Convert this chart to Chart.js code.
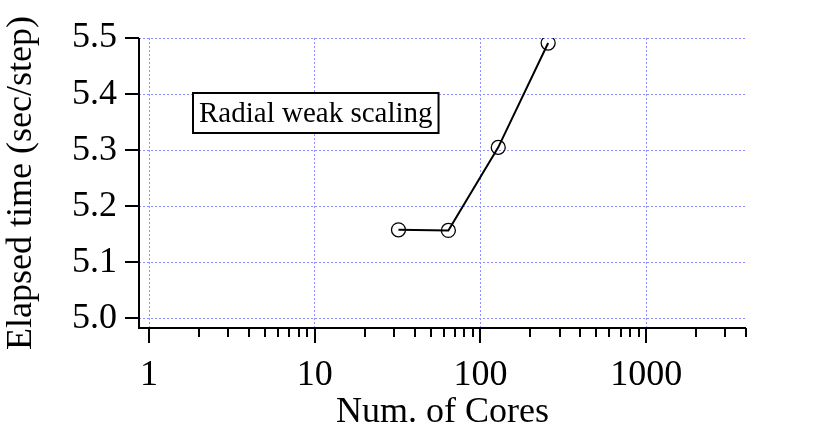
<!DOCTYPE html>
<html>
<head>
<meta charset="utf-8">
<script src="https://cdn.jsdelivr.net/npm/chart.js@4.4.0/dist/chart.umd.min.js"></script>
<style>
  html, body { margin: 0; padding: 0; background: #fff; }
  #wrap { width: 820px; height: 431px; }
</style>
</head>
<body>
<div id="wrap"><canvas id="chart"></canvas></div>
<script>
const cores = [32, 64, 128, 256];
const elapsed = [5.158, 5.157, 5.305, 5.491];
const xMajorTicks = [1, 10, 100, 1000];
const yTicks = [5.0, 5.1, 5.2, 5.3, 5.4, 5.5];
const noteText = 'Radial weak scaling';

const FONT = '"Liberation Serif", "Times New Roman", serif';
const GRID = '#8f8fff';

// 1..9, 10..90, 100..900, 1000..4000
const xAllTicks = [];
for (let d = 1; d <= 1000; d *= 10) {
  for (let m = 1; m <= 9; m++) {
    if (d * m <= 4000) xAllTicks.push(d * m);
  }
}

// tick marks drawn outside the axes, longer on majors
const tickMarks = {
  id: 'tickMarks',
  afterDraw(chart) {
    const { ctx, chartArea, scales } = chart;
    ctx.save();
    ctx.strokeStyle = '#000';
    ctx.lineWidth = 2;
    // axis lines
    ctx.beginPath();
    ctx.moveTo(chartArea.left, chartArea.top);
    ctx.lineTo(chartArea.left, chartArea.bottom);
    ctx.lineTo(chartArea.right, chartArea.bottom);
    ctx.stroke();
    ctx.beginPath();
    xAllTicks.forEach(v => {
      const x = Math.round(scales.x.getPixelForValue(v));
      const len = xMajorTicks.includes(v) ? 15 : 9;
      ctx.moveTo(x, chartArea.bottom);
      ctx.lineTo(x, chartArea.bottom + len);
    });
    yTicks.forEach(v => {
      const y = Math.round(scales.y.getPixelForValue(v));
      ctx.moveTo(chartArea.left, y);
      ctx.lineTo(chartArea.left - 14, y);
    });
    ctx.stroke();
    ctx.restore();
  }
};

const noteBox = {
  id: 'noteBox',
  afterDatasetsDraw(chart) {
    const { ctx, chartArea } = chart;
    ctx.save();
    ctx.font = '29px ' + FONT;
    const w = ctx.measureText(noteText).width;
    const x = chartArea.left + 54, y = chartArea.top + 55;
    ctx.fillStyle = '#fff';
    ctx.fillRect(x, y, w + 12, 40);
    ctx.strokeStyle = '#000';
    ctx.lineWidth = 2;
    ctx.strokeRect(x, y, w + 12, 40);
    ctx.fillStyle = '#000';
    ctx.textBaseline = 'middle';
    ctx.fillText(noteText, x + 6, y + 21);
    ctx.restore();
  }
};

new Chart(document.getElementById('chart'), {
  type: 'line',
  data: {
    datasets: [{
      data: cores.map((c, i) => ({ x: c, y: elapsed[i] })),
      borderColor: '#000',
      borderWidth: 2,
      pointStyle: 'circle',
      pointRadius: 7,
      pointBorderWidth: 1.3,
      pointBorderColor: '#000',
      pointBackgroundColor: 'rgba(0,0,0,0)',
      tension: 0
    }]
  },
  options: {
    responsive: true,
    maintainAspectRatio: false,
    animation: false,
    layout: { padding: { top: 38, right: 74, left: 0, bottom: 0 } },
    plugins: { legend: { display: false }, tooltip: { enabled: false } },
    scales: {
      x: {
        type: 'logarithmic',
        min: 0.87,
        max: 4000,
        afterBuildTicks: s => { s.ticks = xAllTicks.map(v => ({ value: v })); },
        afterFit: s => { s.height = 103; },
        border: { display: false, dash: [2, 2] },
        grid: {
          color: c => xMajorTicks.includes(c.tick && c.tick.value) ? GRID : 'rgba(0,0,0,0)',
          lineWidth: 1,
          drawTicks: false
        },
        ticks: {
          autoSkip: false,
          maxRotation: 0,
          padding: 26,
          color: '#000',
          font: { family: FONT, size: 36 },
          callback: v => xMajorTicks.includes(v) ? String(v) : ''
        },
        title: {
          display: true,
          text: 'Num. of Cores',
          color: '#000',
          font: { family: FONT, size: 36, lineHeight: 1.0 },
          padding: { top: 0, bottom: 0 }
        }
      },
      y: {
        min: 4.983,
        max: 5.5,
        afterBuildTicks: s => { s.ticks = yTicks.map(v => ({ value: v })); },
        afterFit: s => { s.width = 139; },
        border: { display: false, dash: [2, 2] },
        grid: { color: GRID, lineWidth: 1, drawTicks: false },
        ticks: {
          padding: 22,
          color: '#000',
          font: { family: FONT, size: 36, lineHeight: 0.6 },
          callback: v => v.toFixed(1)
        },
        title: {
          display: true,
          text: 'Elapsed time (sec/step)',
          color: '#000',
          font: { family: FONT, size: 36 },
          padding: { top: 0, bottom: 0 }
        }
      }
    }
  },
  plugins: [tickMarks, noteBox]
});
</script>
</body>
</html>
